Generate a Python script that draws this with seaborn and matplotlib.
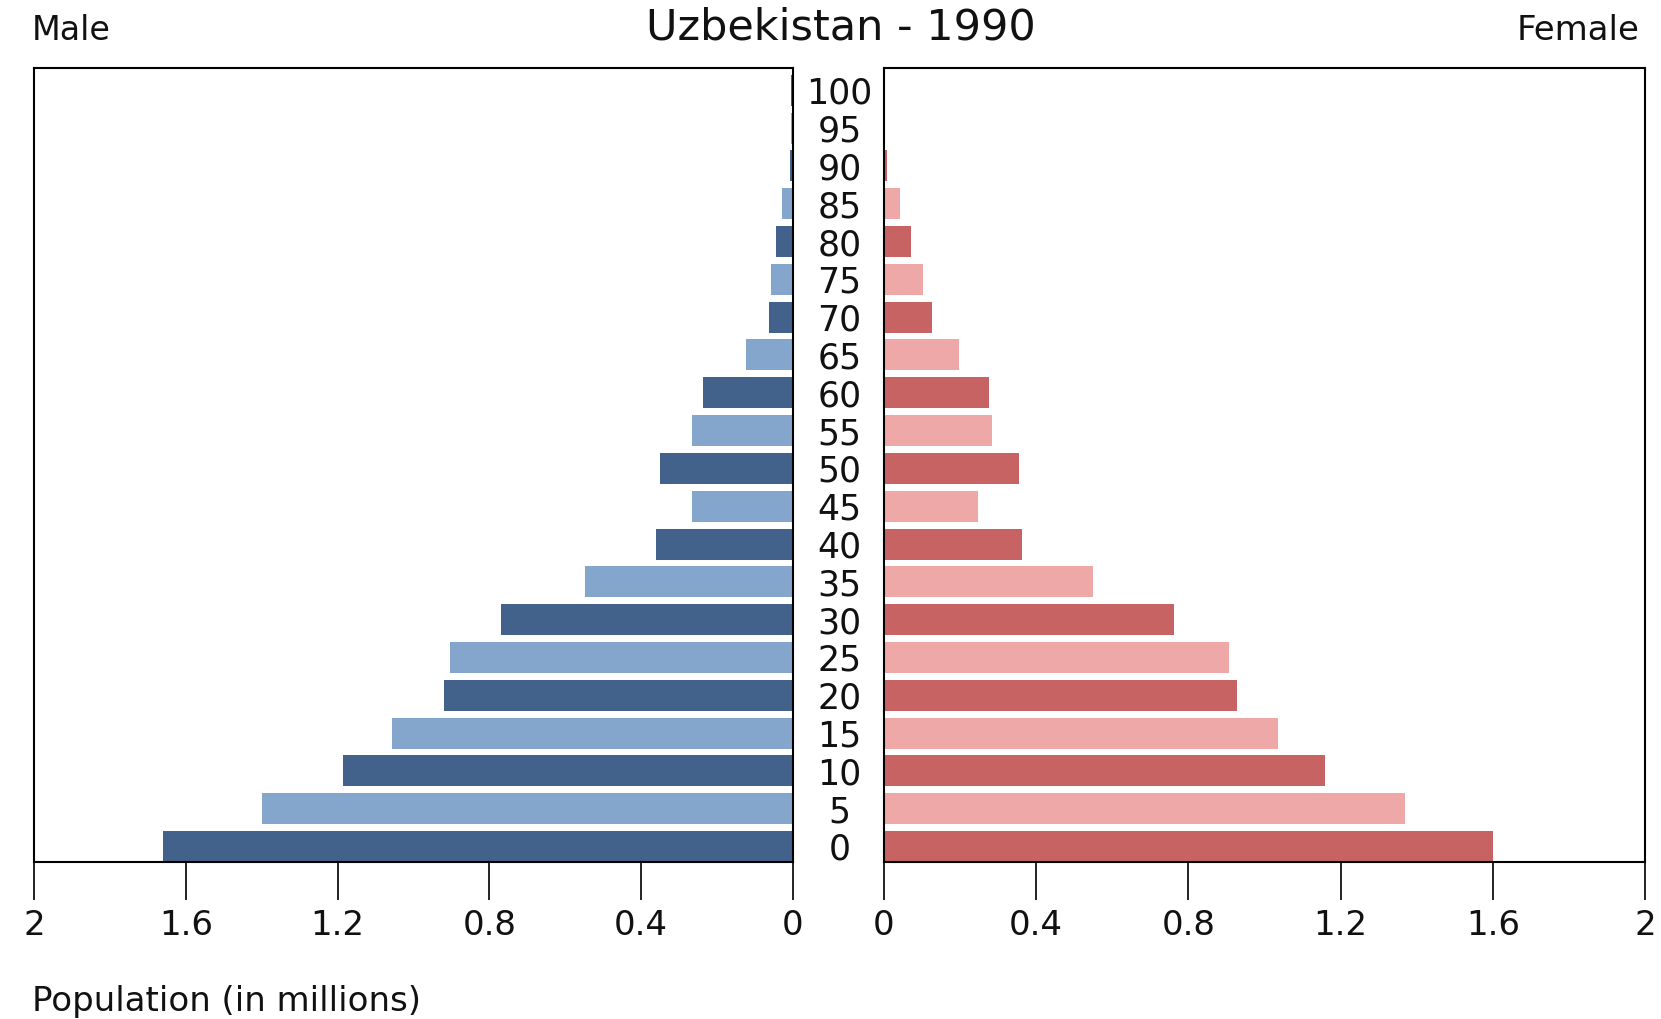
import matplotlib
matplotlib.use("Agg")
import matplotlib.pyplot as plt
import seaborn as sns
import pandas as pd

ages = ["100", "95", "90", "85", "80", "75", "70", "65", "60", "55", "50",
        "45", "40", "35", "30", "25", "20", "15", "10", "5", "0"]
male = [0.004, 0.005, 0.008, 0.028, 0.045, 0.059, 0.064, 0.123, 0.237, 0.265, 0.351,
        0.265, 0.360, 0.547, 0.770, 0.904, 0.920, 1.057, 1.185, 1.400, 1.660]
female = [0.001, 0.002, 0.008, 0.042, 0.070, 0.103, 0.125, 0.198, 0.276, 0.284, 0.354,
          0.248, 0.362, 0.549, 0.763, 0.908, 0.928, 1.036, 1.159, 1.368, 1.600]
xticks = [0, 0.4, 0.8, 1.2, 1.6, 2]
xticklabels = ["0", "0.4", "0.8", "1.2", "1.6", "2"]

male_dark, male_light = "#42618b", "#84a6cd"
female_dark, female_light = "#c86363", "#efa8a8"

sns.set_theme(style="white")
plt.rcParams['font.family'] = ['DejaVu Sans']
plt.rcParams['text.color'] = '#111111'

W, H = 1661, 1019
fig = plt.figure(figsize=(W / 100, H / 100), dpi=100)
top_px, bot_px = 68, 862
axL = fig.add_axes([34 / W, 1 - bot_px / H, 759 / W, (bot_px - top_px) / H])
axR = fig.add_axes([884 / W, 1 - bot_px / H, 761 / W, (bot_px - top_px) / H])

df = pd.DataFrame({"age": ages, "male": male, "female": female})
n = len(ages)
m_pal = {a: (male_dark if (n - 1 - i) % 2 == 0 else male_light) for i, a in enumerate(ages)}
f_pal = {a: (female_dark if (n - 1 - i) % 2 == 0 else female_light) for i, a in enumerate(ages)}

sns.barplot(data=df, x="male", y="age", hue="age", palette=m_pal, order=ages,
            orient="h", width=0.82, legend=False, ax=axL, saturation=1, linewidth=0)
sns.barplot(data=df, x="female", y="age", hue="age", palette=f_pal, order=ages,
            orient="h", width=0.82, legend=False, ax=axR, saturation=1, linewidth=0)

for ax in (axL, axR):
    ax.set_ylim(20.41, -0.59)
    ax.set_xticks(xticks)
    ax.set_xticklabels(xticklabels)
    ax.set_xlabel("")
    ax.set_ylabel("")
    ax.tick_params(axis="x", direction="out", length=27, width=1.3, pad=7,
                   labelsize=24.5, colors="#111111", bottom=True)
    for s in ax.spines.values():
        s.set_visible(True)
        s.set_color("black")
        s.set_linewidth(1.5)
    ax.set_facecolor("white")

axL.set_xlim(2, 0)
axR.set_xlim(0, 2)
axL.set_yticks([])
axR.tick_params(axis="y", length=0, pad=32, labelsize=25, colors="#111111", left=True)
axR.set_yticks(range(n))
axR.set_yticklabels(ages, ha="center", va="center_baseline")

fig.text(841 / W, 1 - 27 / H, "Uzbekistan - 1990", ha="center", va="center", fontsize=31)
fig.text(32 / W, 1 - 31 / H, "Male", ha="left", va="center", fontsize=24)
fig.text(1640 / W, 1 - 31 / H, "Female", ha="right", va="center", fontsize=24.5)
fig.text(32 / W, 1 - 1002 / H, "Population (in millions)", ha="left", va="center", fontsize=24.5)

fig.savefig("out.png", dpi=100, facecolor="white")
